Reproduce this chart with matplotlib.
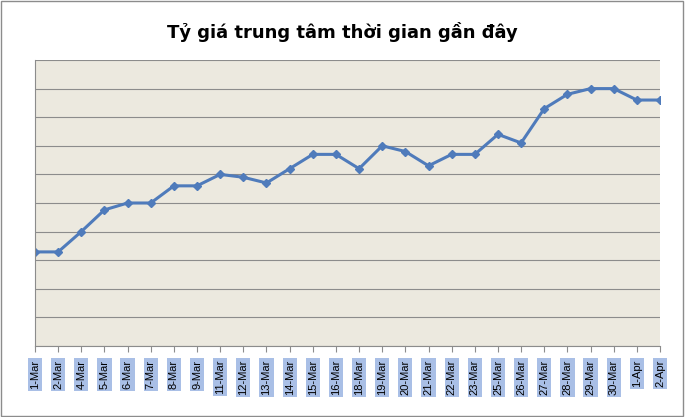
import matplotlib.pyplot as plt

dates = ["1-Mar", "2-Mar", "4-Mar", "5-Mar", "6-Mar", "7-Mar", "8-Mar", "9-Mar",
         "11-Mar", "12-Mar", "13-Mar", "14-Mar", "15-Mar", "16-Mar", "18-Mar",
         "19-Mar", "20-Mar", "21-Mar", "22-Mar", "23-Mar", "25-Mar", "26-Mar",
         "27-Mar", "28-Mar", "29-Mar", "30-Mar", "1-Apr", "2-Apr"]
rates = [3.29, 3.29, 4.0, 4.76, 5.0, 5.0, 5.6, 5.6, 6.0, 5.9, 5.7, 6.2, 6.7, 6.7,
         6.2, 7.0, 6.8, 6.3, 6.7, 6.7, 7.4, 7.1, 8.3, 8.8, 9.0, 9.0, 8.6, 8.6]

fig = plt.figure(figsize=(6.85, 4.17), dpi=100)
ax = fig.add_axes([35 / 685, 1 - 346 / 417, 625 / 685, 286 / 417])
ax.set_facecolor("#ece9df")
x = list(range(len(dates)))
ax.plot(x, rates, color="#4f7bbb", lw=2.2, marker="D", ms=4)
ax.set_xlim(0, len(dates) - 1)
ax.set_ylim(0, 10)
ax.set_yticks(range(11))
ax.yaxis.grid(True, color="#8c8c8c", lw=0.8)
ax.tick_params(axis="y", length=0, labelleft=False)
ax.set_xticks(x)
ax.set_xticklabels(dates, rotation=90, fontsize=8, family="Liberation Sans")
ax.tick_params(axis="x", length=4, color="#8c8c8c", pad=6)
for t in ax.get_xticklabels():
    t.set_bbox(dict(facecolor="#a9bfe6", edgecolor="none", pad=1.5))
for s in ["top", "right"]:
    ax.spines[s].set_visible(False)
ax.spines["left"].set_color("#8c8c8c")
ax.spines["bottom"].set_color("#8c8c8c")
fig.text(0.5, 1 - 32 / 417, "Tỷ giá trung tâm thời gian gần đây", ha="center",
         va="center", fontsize=13, fontweight="bold", family="DejaVu Sans")
fig.patches.append(plt.Rectangle((0.002, 0.003), 0.995, 0.994, transform=fig.transFigure,
                                 fill=False, edgecolor="#8c8c8c", lw=1))
fig.savefig("out.png", dpi=100)
